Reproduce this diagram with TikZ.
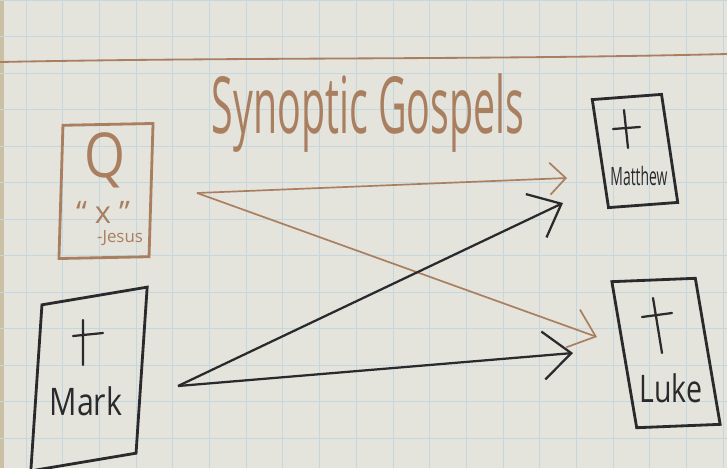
\documentclass[tikz,border=0pt]{standalone}
\usepackage{fontspec}
\usepackage{tikz}
\usetikzlibrary{arrows.meta}
\newfontfamily\handfont{Open Sans}
\definecolor{paperBg}{HTML}{E4E3DC}
\definecolor{paperEdge}{HTML}{CBBFA6}
\definecolor{gridBlue}{HTML}{C4D7DF}
\definecolor{inkBrown}{HTML}{A97F60}
\definecolor{inkBlack}{HTML}{2A2A2D}
\tikzset{
  grid line/.style={draw=gridBlue, line width=0.6pt},
  gospel box/.style={draw=inkBlack, line width=2pt, inner sep=0pt},
  source box/.style={gospel box, draw=inkBrown},
  cross/.style={draw=inkBlack, line width=1.6pt, line cap=round},
  brown arrow/.style={-{Straight Barb[length=6mm,width=10mm]},
    draw=inkBrown, line width=1.2pt},
  black arrow/.style={-{Straight Barb[length=7mm,width=12mm]},
    draw=inkBlack, line width=1.6pt},
  hand/.style={inner sep=0pt}
}

\begin{document}
\begin{tikzpicture}[x=0.025cm, y=-0.025cm]
  \useasboundingbox (0,0) rectangle (727,468);
  \clip (0,0) rectangle (727,468);
  % paper and grid
  \fill[paperBg] (0,0) rectangle (727,468);
  \fill[paperEdge] (0,0) rectangle (4,468);
  \foreach \gx in {0,...,19} \draw[grid line] (26+36.7*\gx,0) -- (26+36.7*\gx,468);
  \foreach \gy in {0,...,12} \draw[grid line] (0,36.5*\gy) -- (727,36.5*\gy);
  \draw[draw=inkBrown, line width=1.3pt] (0,62) .. controls (250,57) and (480,60) .. (727,54);

  \node[hand, text=inkBrown, anchor=base, xscale=0.5,
    font=\handfont\fontsize{56}{60}\selectfont] (title) at (368,133) {Synoptic Gospels};

  % source Q
  \node[source box, minimum width=2.25cm, minimum height=3.33cm,
    xslant=0.03, yslant=0.02] (q) at (106,191) {};
  \node[hand, text=inkBrown, xscale=0.85,
    font=\handfont\fontsize{44}{46}\selectfont] (qletter) at (105,160) {Q};
  \node[hand, text=inkBrown, font=\handfont\fontsize{22}{24}\selectfont]
    (qsaying) at (103,212) {“ x ”};
  \node[hand, text=inkBrown, font=\handfont\fontsize{12}{14}\selectfont]
    (qjesus) at (120,238) {-Jesus};

  % gospels
  \node[gospel box, minimum width=2.6cm, minimum height=4.15cm,
    xslant=0.067, yslant=0.17] (mark) at (89,379) {};
  \node[gospel box, minimum width=1.75cm, minimum height=2.7cm,
    xslant=-0.15, yslant=0.074] (matthew) at (635,151) {};
  \node[gospel box, minimum width=2.1cm, minimum height=3.65cm,
    xslant=-0.17, yslant=0.04] (luke) at (666,353) {};

  \draw[cross] (83,320) -- (83,365) (73,336) -- (103,333);
  \draw[cross] (624,110) -- (628,148) (613,129) -- (640,127);
  \draw[cross] (653,298) -- (662,353) (642,317) -- (672,313);

  \node[hand, text=inkBlack, anchor=base, xscale=0.8,
    font=\handfont\fontsize{27}{30}\selectfont] (marktext) at (86,415) {Mark};
  \node[hand, text=inkBlack, anchor=base, xscale=0.55,
    font=\handfont\fontsize{18}{20}\selectfont] (matthewtext) at (639,185) {Matthew};
  \node[hand, text=inkBlack, anchor=base, xscale=0.75,
    font=\handfont\fontsize{27}{30}\selectfont] (luketext) at (671,402) {Luke};

  % arrows
  \coordinate (qout) at (197,193);
  \coordinate (markout) at (178,386);
  \coordinate (matthewQ) at (567,178);
  \coordinate (matthewMark) at (563,203);
  \coordinate (lukeQ) at (597,337);
  \coordinate (lukeMark) at (573,353);
  \draw[brown arrow, -{Straight Barb[length=4mm,width=8mm]}] (qout) -- (matthewQ);
  \draw[brown arrow] (qout) -- (lukeQ);
  \draw[black arrow] (markout) -- (matthewMark);
  \draw[black arrow] (markout) -- (lukeMark);
\end{tikzpicture}
\end{document}
